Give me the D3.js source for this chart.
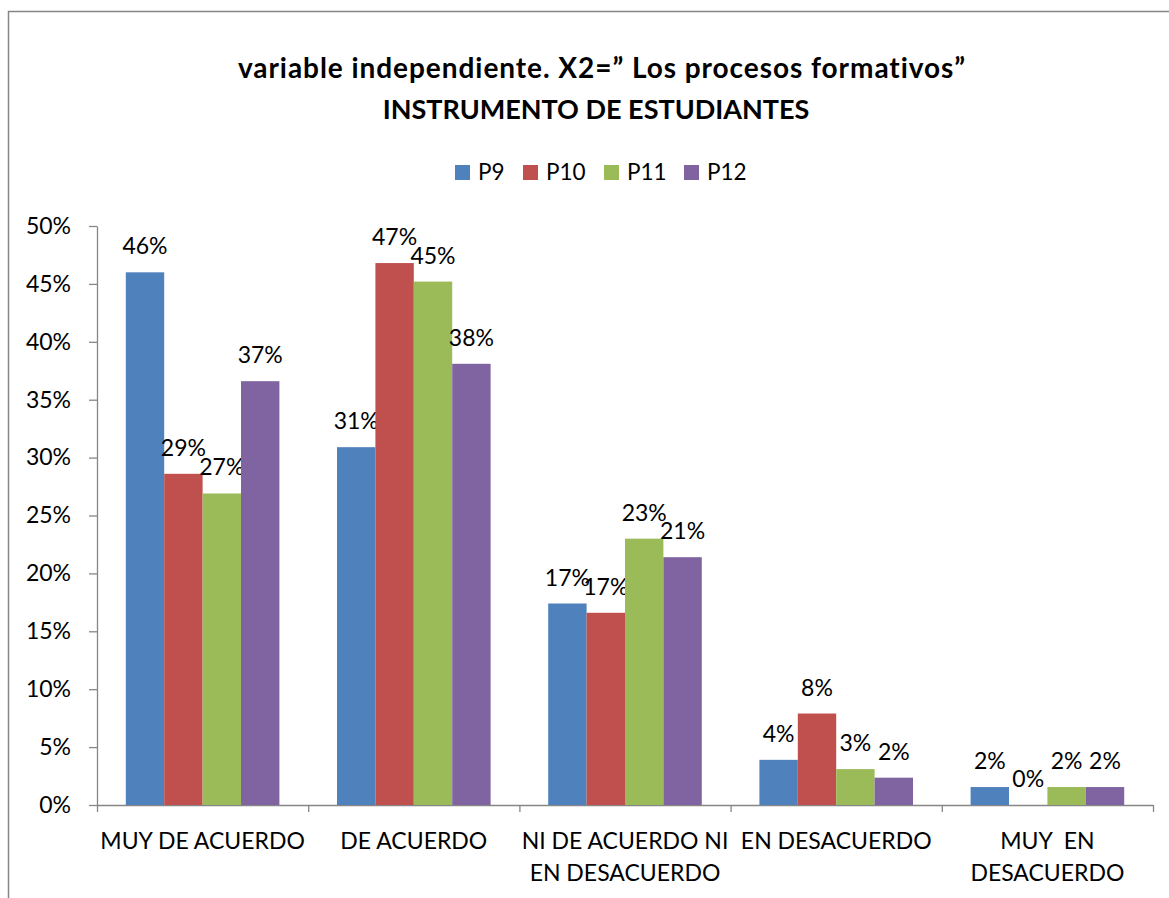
<!DOCTYPE html>
<html>
<head>
<meta charset="utf-8">
<script src="https://cdn.jsdelivr.net/npm/d3@7"></script>
<style>
	body { margin: 0; background: #fff; }
	#chart text { font-family: Lato, "Liberation Sans", sans-serif; fill: #000; }
</style>
</head>
<body>
<div id="chart"></div>
<script>
// chart data
var titleLines  = ['variable independiente. X2=\u201D Los procesos formativos\u201D', 'INSTRUMENTO DE ESTUDIANTES'];
var categories  = [['MUY DE ACUERDO'], ['DE ACUERDO'], ['NI DE ACUERDO NI', 'EN DESACUERDO'], ['EN DESACUERDO'], ['MUY  EN', 'DESACUERDO']];
var seriesNames = ['P9', 'P10', 'P11', 'P12'];
var p9  = [0.460, 0.309, 0.174, 0.039, 0.0155];
var p10 = [0.286, 0.468, 0.166, 0.079, 0];
var p11 = [0.269, 0.452, 0.230, 0.031, 0.0155];
var p12 = [0.366, 0.381, 0.214, 0.0236, 0.0155];
var yTicks = [0, 0.05, 0.10, 0.15, 0.20, 0.25, 0.30, 0.35, 0.40, 0.45, 0.50];
var colors = ['#4F81BD', '#C0504D', '#9BBB59', '#8064A2'];

function BarChart(config) {
	var me = this;
	me.initConfig(config);
}

BarChart.prototype.initConfig = function(config) {
	this.width  = 1169;
	this.height = 898;
	this.plot   = {left: 97, right: 1153, top: 226, bottom: 805};
	this.axisColor = '#868686';
	for (var k in config) { if (config.hasOwnProperty(k)) this[k] = config[k]; }

	this.parentNode = d3.select('#' + this.parentId);
	this.svg = this.parentNode.append('svg')
		.attr('width', this.width)
		.attr('height', this.height);

	this.draw();
}

BarChart.prototype.draw = function() {
	var me = this;

	// outer chart frame (runs past the right and bottom edge)
	me.svg.append('rect')
		.attr('x', 8.5).attr('y', 11.5)
		.attr('width', me.width + 20).attr('height', me.height + 20)
		.attr('fill', 'none')
		.attr('stroke', me.axisColor)
		.attr('stroke-width', 1.5);

	me.drawTitle();
	me.drawLegend();
	me.drawAxes();
	me.drawBars();
}

BarChart.prototype.drawTitle = function() {
	var me = this;
	me.svg.append('g').selectAll('text')
		.data(titleLines)
		.enter().append('text')
		.attr('x', function(d, i) { return i ? 596 : 602; })
		.attr('y', function(d, i) { return 78 + i * 41; })
		.attr('text-anchor', 'middle')
		.style('font-size', function(d, i) { return i ? '27px' : '28px'; })
		.style('letter-spacing', function(d, i) { return i ? '0px' : '0.95px'; })
		.style('font-weight', 'bold')
		.text(function(d) { return d; });
}

BarChart.prototype.drawLegend = function() {
	var me = this;
	var legendX = [455, 523, 604, 684];
	var item = me.svg.append('g').attr('class', 'legend')
		.selectAll('g')
		.data(me.series)
		.enter().append('g')
		.attr('transform', function(d, i) { return 'translate(' + legendX[i] + ',165)'; });
	item.append('rect')
		.attr('width', 15).attr('height', 15)
		.attr('fill', function(d, i) { return colors[i]; });
	item.append('text')
		.attr('x', 23).attr('y', 15)
		.style('font-size', '22.5px')
		.text(function(d) { return d.name; });
}

BarChart.prototype.drawAxes = function() {
	var me = this, p = me.plot;

	me.yScale = d3.scaleLinear()
		.domain([0, 0.5])
		.range([p.bottom, p.top]);

	me.xScale = d3.scaleBand()
		.domain(d3.range(categories.length))
		.range([p.left, p.right]);

	me.xInner = d3.scaleBand()
		.domain(d3.range(me.series.length))
		.range([0, me.xScale.bandwidth()])
		.paddingInner(0)
		.paddingOuter(0.75);

	var yAxis = d3.axisLeft(me.yScale)
		.tickValues(yTicks)
		.tickFormat(d3.format('.0%'))
		.tickSize(8)
		.tickSizeOuter(0)
		.tickPadding(18);

	var gy = me.svg.append('g')
		.attr('transform', 'translate(' + p.left + ',0)')
		.call(yAxis);
	gy.selectAll('line, path').attr('stroke', me.axisColor).attr('stroke-width', 1.3);
	gy.selectAll('text').style('font-size', '23px').attr('fill', '#000');

	// category boundaries for the x tick marks
	var xEdge = d3.scaleLinear().domain([0, categories.length]).range([p.left, p.right]);
	var xAxis = d3.axisBottom(xEdge)
		.ticks(categories.length)
		.tickFormat('')
		.tickSize(7)
		.tickSizeOuter(0);
	var gx = me.svg.append('g')
		.attr('transform', 'translate(0,' + p.bottom + ')')
		.call(xAxis);
	gx.selectAll('line, path').attr('stroke', me.axisColor).attr('stroke-width', 1.3);

	var lab = me.svg.append('g').attr('class', 'xlabels')
		.selectAll('text')
		.data(categories)
		.enter().append('text')
		.attr('x', function(d, i) { return me.xScale(i) + me.xScale.bandwidth() / 2; })
		.attr('y', 849)
		.attr('text-anchor', 'middle')
		.style('font-size', '23px');
	lab.selectAll('tspan')
		.data(function(d) { return d; })
		.enter().append('tspan')
		.attr('x', function() { return d3.select(this.parentNode).attr('x'); })
		.attr('dy', function(d, i) { return i ? 32 : 0; })
		.style('white-space', 'pre')
		.text(function(d) { return d; });
}

BarChart.prototype.drawBars = function() {
	var me = this;
	var fmt = d3.format('.0%');

	var group = me.svg.append('g').attr('class', 'bars')
		.selectAll('g')
		.data(me.series)
		.enter().append('g')
		.attr('fill', function(d, i) { return colors[i]; });

	group.each(function(s, si) {
		var g = d3.select(this);
		g.selectAll('rect')
			.data(s.values)
			.enter().append('rect')
			.attr('x', function(d, i) { return me.xScale(i) + me.xInner(si); })
			.attr('y', function(d) { return me.yScale(d); })
			.attr('width', me.xInner.bandwidth())
			.attr('height', function(d) { return me.yScale(0) - me.yScale(d); });
		g.selectAll('text')
			.data(s.values)
			.enter().append('text')
			.attr('x', function(d, i) { return me.xScale(i) + me.xInner(si) + me.xInner.bandwidth() / 2; })
			.attr('y', function(d) { return me.yScale(d) - 18; })
			.attr('text-anchor', 'middle')
			.style('font-size', '23px')
			.text(function(d) { return fmt(d); });
	});
}

new BarChart({
	parentId: 'chart',
	series: [
		{name: seriesNames[0], values: p9},
		{name: seriesNames[1], values: p10},
		{name: seriesNames[2], values: p11},
		{name: seriesNames[3], values: p12}
	]
});
</script>
</body>
</html>
